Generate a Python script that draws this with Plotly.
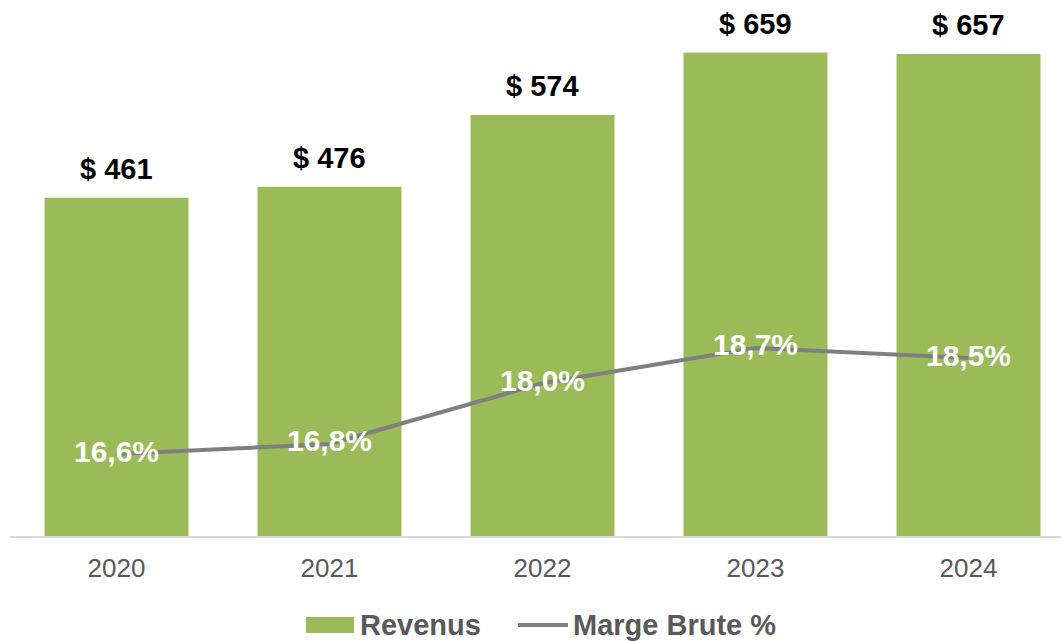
import plotly.graph_objects as go

years = ["2020", "2021", "2022", "2023", "2024"]
revenus = [461, 476, 574, 659, 657]
marge = [16.6, 16.8, 18.0, 18.7, 18.5]

bar_labels = [f"&#36; {v}" for v in revenus]
marge_labels = [f"{v:.1f}".replace(".", ",") + "%" for v in marge]

GREEN = "#9BBB59"
GREY_LINE = "#7F7F7F"
TXT_GREY = "#595959"
FONT = "Arial, Liberation Sans, sans-serif"

W, H = 1061, 641
ML, MB = 10, 105
PW, PH = W - ML, H - MB

fig = go.Figure()
fig.add_trace(go.Bar(
    x=years, y=revenus, name="Revenus",
    marker=dict(color=GREEN, line=dict(width=0)),
    showlegend=False, hoverinfo="x+y",
))
fig.add_trace(go.Scatter(
    x=years, y=marge, name="Marge Brute %", yaxis="y2",
    mode="lines+text", line=dict(color=GREY_LINE, width=4),
    text=marge_labels, textposition="middle center",
    textfont=dict(family=FONT, size=30, color="white", weight="bold"),
    showlegend=False, cliponaxis=False,
))

annotations = []
for i, (v, lab) in enumerate(zip(revenus, bar_labels)):
    annotations.append(dict(
        x=i, y=v, xref="x", yref="y", text=f"<b>{lab}</b>", showarrow=False,
        yanchor="middle", yshift=29,
        font=dict(family=FONT, size=29, color="black"),
    ))

# custom legend
def px_x(p):
    return (p - ML) / PW

def px_y(p):
    return (PH - p) / PH

shapes = [
    dict(type="rect", xref="paper", yref="paper",
         x0=px_x(306), x1=px_x(354), y0=px_y(633), y1=px_y(617),
         fillcolor=GREEN, line=dict(width=0)),
    dict(type="line", xref="paper", yref="paper",
         x0=px_x(518), x1=px_x(568), y0=px_y(625), y1=px_y(625),
         line=dict(color=GREY_LINE, width=4)),
]
annotations.append(dict(x=px_x(358), y=px_y(625), xref="paper", yref="paper",
                        text="<b>Revenus</b>", showarrow=False, xanchor="left", yanchor="middle",
                        font=dict(family=FONT, size=29, color=TXT_GREY)))
annotations.append(dict(x=px_x(571), y=px_y(625), xref="paper", yref="paper",
                        text="<b>Marge Brute %</b>", showarrow=False, xanchor="left", yanchor="middle",
                        font=dict(family=FONT, size=29, color=TXT_GREY)))

fig.update_layout(
    width=W, height=H,
    margin=dict(l=ML, r=0, t=0, b=MB),
    paper_bgcolor="white", plot_bgcolor="white",
    bargap=0.324,
    showlegend=False,
    xaxis=dict(
        type="category", range=[-0.5, -0.5 + PW / 213.0],
        showline=True, linecolor="#D9D9D9", linewidth=2,
        showgrid=False, zeroline=False, ticks="",
        tickfont=dict(family=FONT, size=26, color=TXT_GREY),
        ticklabelstandoff=8,
    ),
    yaxis=dict(range=[0, PH / 0.7335], showticklabels=False, showline=False,
               showgrid=False, zeroline=False),
    yaxis2=dict(range=[16.6 - (PH - 454) / 50.5, 16.6 + 454 / 50.5], overlaying="y",
                showticklabels=False, showline=False, showgrid=False, zeroline=False),
    annotations=annotations,
    shapes=shapes,
)

fig.write_html("out.html", config={"displayModeBar": False},
               post_script="document.body.style.margin='0';document.body.style.overflow='hidden';")
